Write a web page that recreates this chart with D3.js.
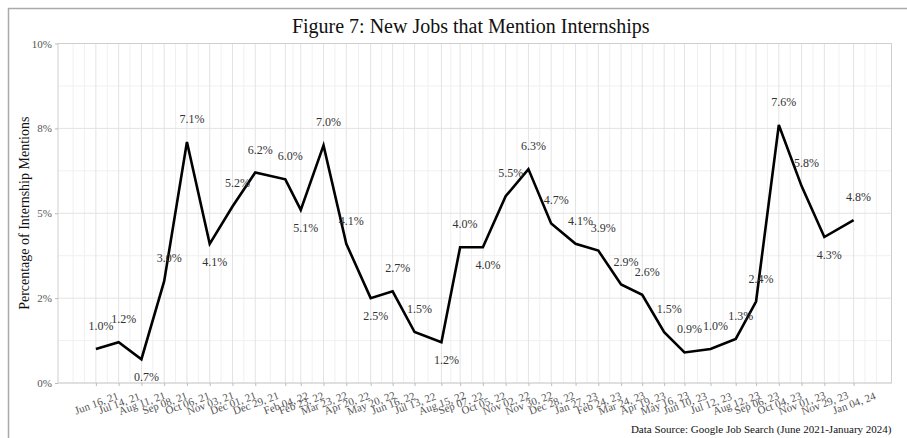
<!DOCTYPE html>
<meta charset="utf-8">
<title>New Jobs that Mention Internships</title>
<body>
<script src="https://cdn.jsdelivr.net/npm/d3@7"></script>
<style>
html, body {
    margin: 0;
    background: #fff;
}
svg {
    display: block;
    font-family: "Liberation Serif", "DejaVu Serif", serif;
}
</style>
<script>
var width = 907,
    height = 438;

var dates = [
    "2021-06-16", "2021-07-14", "2021-08-11", "2021-09-08", "2021-10-06", "2021-11-03",
    "2021-12-01", "2021-12-29", "2022-02-04", "2022-02-23", "2022-03-23", "2022-04-20",
    "2022-05-20", "2022-06-16", "2022-07-13", "2022-08-15", "2022-09-07", "2022-10-05",
    "2022-11-02", "2022-11-30", "2022-12-28", "2023-01-27", "2023-02-24", "2023-03-24",
    "2023-04-19", "2023-05-16", "2023-06-10", "2023-07-12", "2023-08-12", "2023-09-06",
    "2023-10-04", "2023-11-01", "2023-11-29", "2024-01-04"
];

var mentions = [
    1.0, 1.2, 0.7, 3.0, 7.1, 4.1,
    5.2, 6.2, 6.0, 5.1, 7.0, 4.1,
    2.5, 2.7, 1.5, 1.2, 4.0, 4.0,
    5.5, 6.3, 4.7, 4.1, 3.9, 2.9,
    2.6, 1.5, 0.9, 1.0, 1.3, 2.4,
    7.6, 5.8, 4.3, 4.8
];

// labels that sit under the line instead of above it
var labelBelow = ["2021-08-11", "2021-11-03", "2022-02-23", "2022-05-20", "2022-08-15", "2022-10-05", "2023-11-29"];

var yTicks = [0, 2.5, 5, 7.5, 10],
    yTickLabels = ["0%", "2%", "5%", "8%", "10%"],
    yMinor = [1.25, 3.75, 6.25, 8.75];

var title = "Figure 7: New Jobs that Mention Internships",
    yTitle = "Percentage of Internship Mentions",
    caption = "Data Source: Google Job Search (June 2021-January 2024)";

var parse = d3.timeParse("%Y-%m-%d"),
    fmtDate = d3.timeFormat("%b %d, %y"),
    fmtPct = function(v) { return d3.format(".1f")(v) + "%"; };

var data = dates.map(function(d, i) {
    return { date: parse(d), key: d, value: mentions[i] };
});

var pl = 58, pr = 891.5, pt = 43.5, pb = 383;

// 5% padding either side, like the original
var t0 = data[0].date, t1 = data[data.length - 1].date,
    pad = (t1 - t0) * 0.05;

var x = d3.scaleTime()
    .domain([new Date(+t0 - pad), new Date(+t1 + pad)])
    .range([pl, pr]);

var y = d3.scaleLinear()
    .domain([0, 10])
    .range([pb, pt]);

var svg = d3.select("body").append("svg")
    .attr("width", width)
    .attr("height", height);

// outer frame (only top/left edge visible)
svg.append("rect")
    .attr("x", 8.5).attr("y", 8.5)
    .attr("width", width + 20).attr("height", height + 20)
    .attr("fill", "none")
    .attr("stroke", "#aaa")
    .attr("stroke-width", 1.5);

// minor x breaks: midpoints plus one extra step past each end
var step = data[1].date - data[0].date,
    bx = [new Date(+t0 - step)].concat(data.map(function(d) { return d.date; }), [new Date(+t1 + step)]),
    xMinor = [];
bx.forEach(function(d, i) {
    if (i > 0) xMinor.push(new Date((+bx[i - 1] + +d) / 2));
});
xMinor.push(bx[0], bx[bx.length - 1]);

var grid = svg.append("g");

grid.selectAll("line.xminor")
    .data(xMinor)
  .enter().append("line")
    .attr("x1", function(d) { return x(d); })
    .attr("x2", function(d) { return x(d); })
    .attr("y1", pt).attr("y2", pb)
    .attr("stroke", "#f0f0f0")
    .attr("stroke-width", 1);

grid.selectAll("line.yminor")
    .data(yMinor)
  .enter().append("line")
    .attr("x1", pl).attr("x2", pr)
    .attr("y1", function(d) { return y(d); })
    .attr("y2", function(d) { return y(d); })
    .attr("stroke", "#f0f0f0")
    .attr("stroke-width", 1);

grid.selectAll("line.xmajor")
    .data(data)
  .enter().append("line")
    .attr("x1", function(d) { return x(d.date); })
    .attr("x2", function(d) { return x(d.date); })
    .attr("y1", pt).attr("y2", pb)
    .attr("stroke", "#e3e3e3")
    .attr("stroke-width", 1);

grid.selectAll("line.ymajor")
    .data(yTicks)
  .enter().append("line")
    .attr("x1", pl).attr("x2", pr)
    .attr("y1", function(d) { return y(d); })
    .attr("y2", function(d) { return y(d); })
    .attr("stroke", "#e3e3e3")
    .attr("stroke-width", 1);

svg.append("rect")
    .attr("x", pl).attr("y", pt)
    .attr("width", pr - pl).attr("height", pb - pt)
    .attr("fill", "none")
    .attr("stroke", "#cfcfcf")
    .attr("stroke-width", 1);

// y axis
var yAxis = svg.append("g")
    .attr("transform", "translate(" + pl + ",0)")
    .call(d3.axisLeft(y)
        .tickValues(yTicks)
        .tickSize(3)
        .tickPadding(3)
        .tickFormat(function(d, i) { return yTickLabels[i]; }));
yAxis.select(".domain").remove();
yAxis.selectAll("line").attr("stroke", "#bbb");
yAxis.selectAll("text")
    .attr("font-family", "Liberation Serif")
    .attr("font-size", 11)
    .attr("fill", "#555");

// x axis, labels tilted and centred under their tick
var xAxis = svg.append("g")
    .attr("transform", "translate(0," + pb + ")")
    .call(d3.axisBottom(x)
        .tickValues(data.map(function(d) { return d.date; }))
        .tickSize(3)
        .tickFormat(fmtDate));
xAxis.select(".domain").remove();
xAxis.selectAll("line").attr("stroke", "#bbb");
xAxis.selectAll("text")
    .attr("font-family", "Liberation Serif")
    .attr("font-size", 11)
    .attr("fill", "#555")
    .attr("text-anchor", "middle")
    .attr("y", 0)
    .attr("dy", "0.35em")
    .attr("transform", "translate(0,20) rotate(-20)");

// line
svg.append("path")
    .datum(data)
    .attr("fill", "none")
    .attr("stroke", "#000")
    .attr("stroke-width", 2.6)
    .attr("stroke-linejoin", "miter")
    .attr("d", d3.line()
        .x(function(d) { return x(d.date); })
        .y(function(d) { return y(d.value); }));

// value labels
svg.append("g").selectAll("text")
    .data(data)
  .enter().append("text")
    .attr("x", function(d) { return x(d.date) + 5; })
    .attr("y", function(d) {
        return labelBelow.indexOf(d.key) >= 0 ? y(d.value) + 22 : y(d.value) - 19;
    })
    .attr("text-anchor", "middle")
    .attr("font-size", 12)
    .attr("fill", "#333")
    .text(function(d) { return fmtPct(d.value); });

svg.append("text")
    .attr("x", (pl + pr) / 2 - 4)
    .attr("y", 33)
    .attr("text-anchor", "middle")
    .attr("font-size", 20)
    .attr("fill", "#111")
    .text(title);

svg.append("text")
    .attr("transform", "translate(29," + ((pt + pb) / 2) + ") rotate(-90)")
    .attr("text-anchor", "middle")
    .attr("font-size", 14)
    .attr("fill", "#111")
    .text(yTitle);

svg.append("text")
    .attr("x", pr)
    .attr("y", 433)
    .attr("text-anchor", "end")
    .attr("font-size", 11)
    .attr("fill", "#111")
    .text(caption);
</script>
